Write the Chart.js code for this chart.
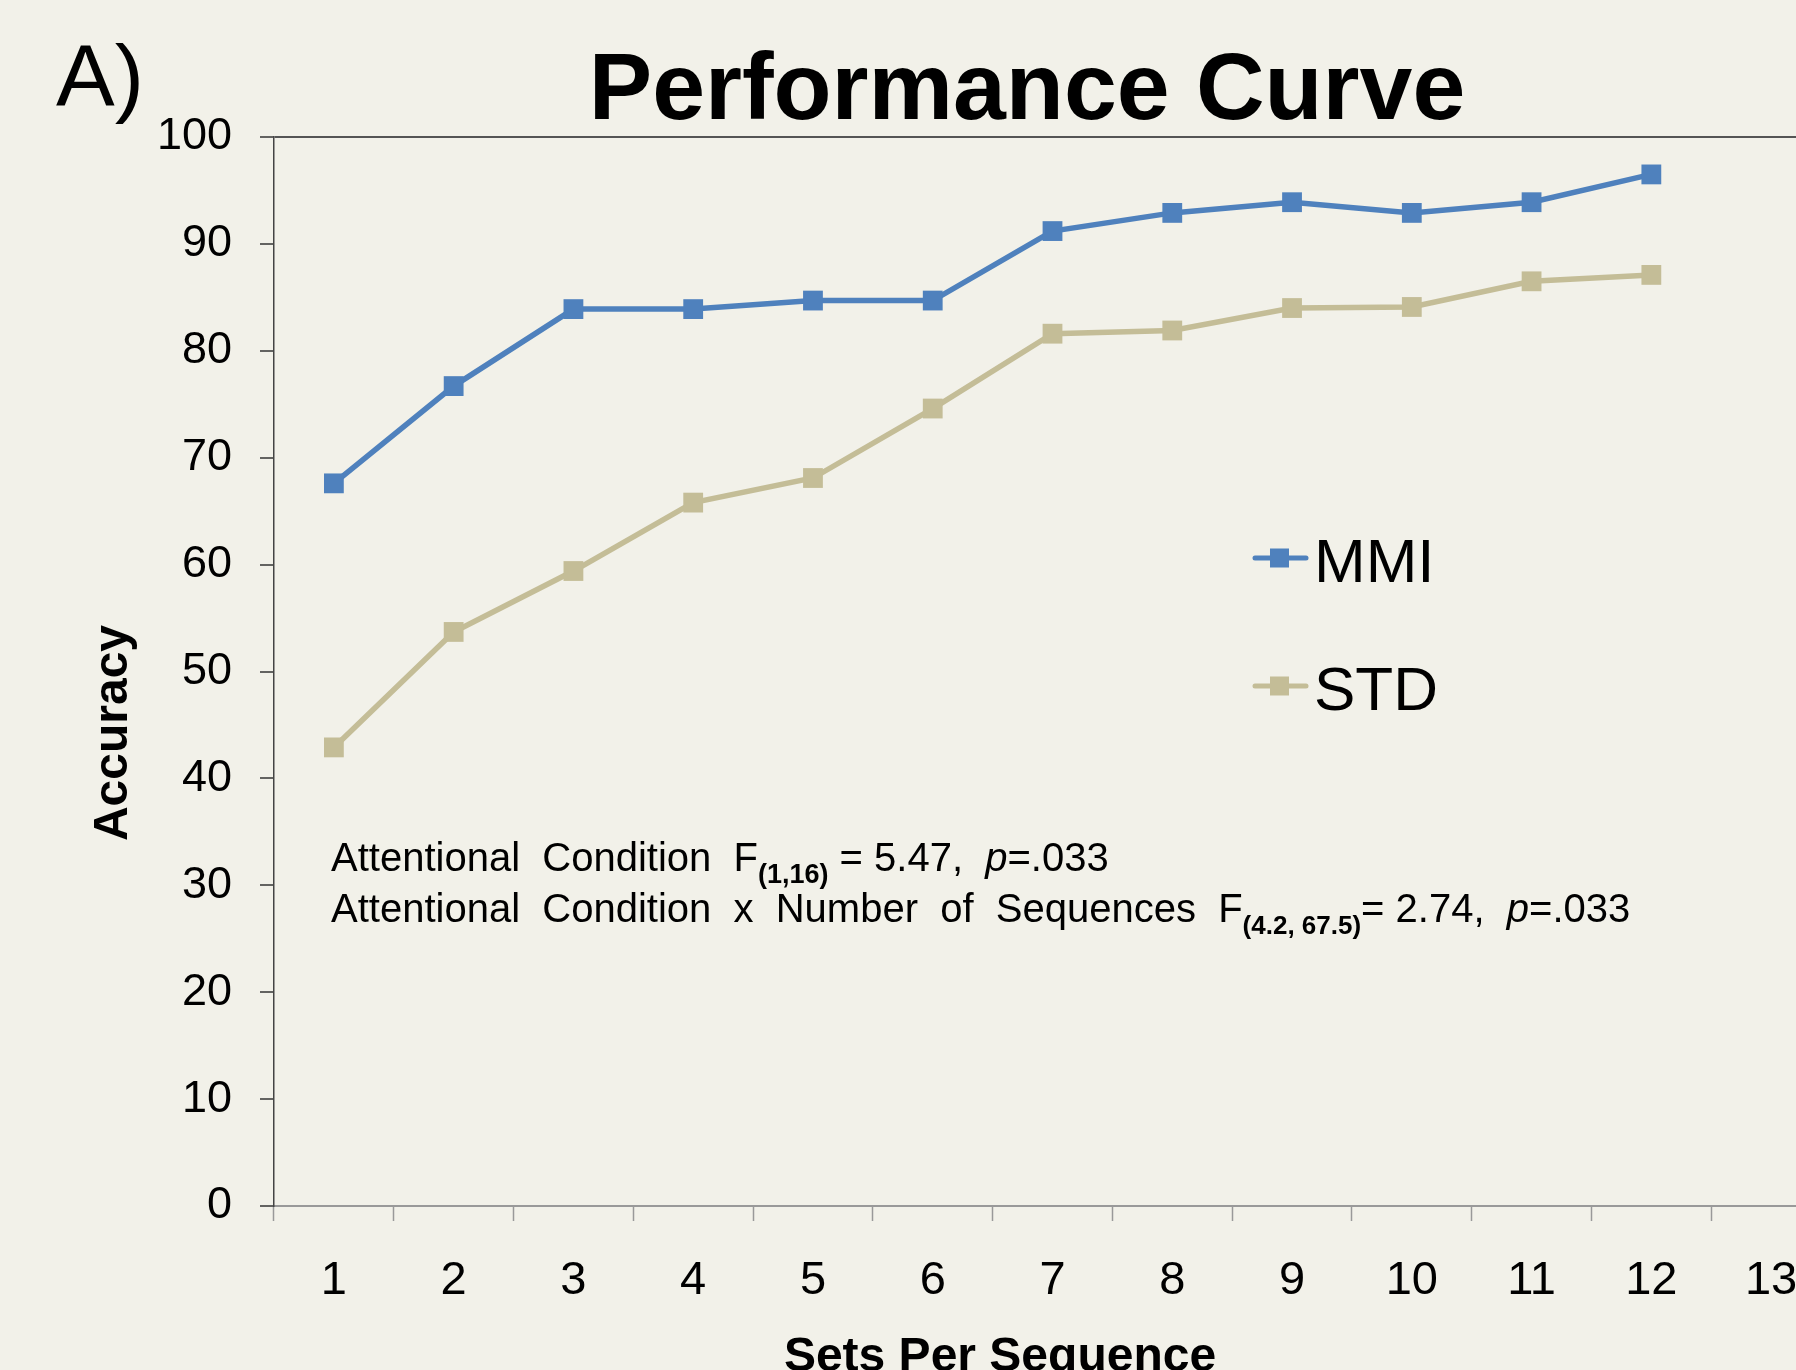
<!DOCTYPE html>
<html>
<head>
<meta charset="utf-8">
<script src="https://cdn.jsdelivr.net/npm/chart.js@4/dist/chart.umd.min.js"></script>
<style>
  html, body { margin: 0; padding: 0; overflow: hidden; background: #f2f1e9; }
  #wrap { width: 1845px; height: 1370px; }
</style>
</head>
<body>
<div id="wrap"><canvas id="myChart" width="1845" height="1370"></canvas></div>
<script>
// data
const setsLabels = ["1", "2", "3", "4", "5", "6", "7", "8", "9", "10", "11", "12", "13"];
const mmiValues = [67.6, 76.7, 83.9, 83.9, 84.7, 84.7, 91.2, 92.9, 93.9, 92.9, 93.9, 96.5];
const stdValues = [42.9, 53.7, 59.4, 65.8, 68.1, 74.6, 81.6, 81.9, 84.0, 84.1, 86.5, 87.1];
const seriesNames = ["MMI", "STD"];
const seriesColors = ["#4f81bd", "#c4bd97"];

const FONT = "'Liberation Sans', Arial, sans-serif";

// background + all the loose text (title, panel letter, axis titles, stats, legend)
const extras = {
  id: "extras",
  beforeDraw(chart) {
    const c = chart.ctx;
    c.save();
    c.fillStyle = "#f2f1e9";
    c.fillRect(0, 0, chart.width, chart.height);
    c.restore();
  },
  afterDraw(chart) {
    const c = chart.ctx;
    c.save();
    c.fillStyle = "#000";
    c.textBaseline = "alphabetic";

    // panel letter
    c.textAlign = "left";
    c.font = "88px " + FONT;
    c.fillText("A)", 56, 106);

    // title
    c.textAlign = "center";
    c.font = "bold 95px " + FONT;
    c.fillText("Performance Curve", 1027, 119);

    // x title
    c.font = "bold 48px " + FONT;
    c.fillText("Sets Per Sequence", 1000, 1371);

    // y title
    c.save();
    c.translate(127, 733);
    c.rotate(-Math.PI / 2);
    c.fillText("Accuracy", 0, 0);
    c.restore();

    // stats text
    c.textAlign = "left";
    const lines = [
      { y: 871, parts: [
        ["Attentional  Condition  F", "40px"],
        ["(1,16)", "bold 27px", 12],
        [" = 5.47,  ", "40px"],
        ["p", "italic 40px"],
        ["=.033", "40px"]
      ]},
      { y: 922, parts: [
        ["Attentional  Condition  x  Number  of  Sequences  F", "40px"],
        ["(4.2, 67.5)", "bold 26px", 12],
        ["= 2.74,  ", "40px"],
        ["p", "italic 40px"],
        ["=.033", "40px"]
      ]}
    ];
    lines.forEach((ln) => {
      let x = 331;
      ln.parts.forEach((p) => {
        c.font = p[1] + " " + FONT;
        c.fillText(p[0], x, ln.y + (p[2] || 0));
        x += c.measureText(p[0]).width;
      });
    });

    // legend
    const legendY = [558, 686];
    chart.data.datasets.forEach((ds, i) => {
      const y = legendY[i];
      c.strokeStyle = ds.borderColor;
      c.lineWidth = 5;
      c.lineCap = "round";
      c.beginPath();
      c.moveTo(1255, y);
      c.lineTo(1306, y);
      c.stroke();
      c.fillStyle = ds.borderColor;
      c.fillRect(1270, y - 9.5, 19, 19);
      c.fillStyle = "#000";
      c.font = "62px " + FONT;
      c.fillText(ds.label, 1314, y + 24);
    });
    c.restore();
  }
};

let ctx = document.getElementById("myChart").getContext("2d");
let chart = new Chart(ctx, {
  type: "line",
  data: {
    labels: setsLabels,
    datasets: [
      {
        label: seriesNames[0],
        data: mmiValues,
        borderColor: seriesColors[0],
        backgroundColor: seriesColors[0],
        pointBackgroundColor: seriesColors[0],
        pointBorderColor: seriesColors[0],
      },
      {
        label: seriesNames[1],
        data: stdValues,
        borderColor: seriesColors[1],
        backgroundColor: seriesColors[1],
        pointBackgroundColor: seriesColors[1],
        pointBorderColor: seriesColors[1],
      },
    ],
  },
  options: {
    responsive: false,
    animation: false,
    layout: { padding: { top: 137, left: 0, right: 0, bottom: 0 } },
    elements: {
      line: { borderWidth: 5.5, tension: 0 },
      point: { pointStyle: "rect", radius: 14, borderWidth: 0, hoverRadius: 14 },
    },
    plugins: {
      legend: { display: false },
      title: { display: false },
      tooltip: { enabled: false },
    },
    scales: {
      x: {
        type: "category",
        offset: true,
        afterFit: (s) => { s.height = 164; },
        grid: {
          offset: true,
          drawOnChartArea: false,
          tickLength: 15,
          tickColor: "#999",
          tickWidth: 1.5,
        },
        border: { color: "#999", width: 2 },
        ticks: {
          color: "#000",
          padding: 32,
          font: { family: FONT, size: 47 },
          maxRotation: 0,
          autoSkip: false,
        },
      },
      y: {
        min: 0,
        max: 100,
        afterFit: (s) => { s.width = 274; },
        grid: {
          drawOnChartArea: true,
          color: (c) => (c.tick && c.tick.value === 100 ? "#555" : "rgba(0,0,0,0)"),
          lineWidth: 2,
          tickColor: "#333",
          tickLength: 14,
          tickWidth: 1.5,
        },
        border: { color: "#444", width: 1.5 },
        ticks: {
          stepSize: 10,
          color: "#000",
          padding: 28,
          font: { family: FONT, size: 45 },
        },
      },
    },
  },
  plugins: [extras],
});
</script>
</body>
</html>
